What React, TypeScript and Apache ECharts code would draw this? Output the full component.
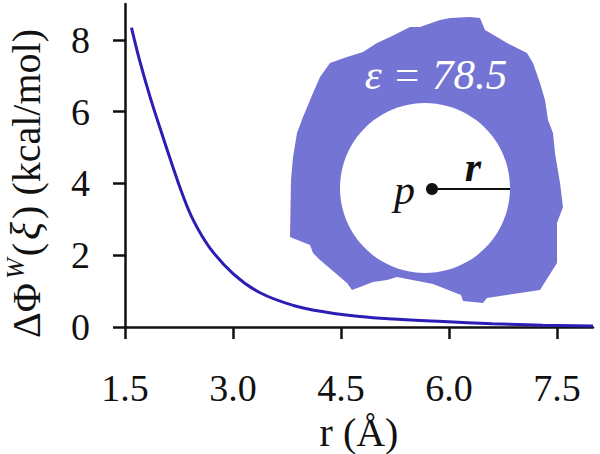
import React, { useEffect, useRef } from "react";
import * as echarts from "echarts";

const rValues = [1.59, 1.7, 1.85, 2.01, 2.15, 2.29, 2.45, 2.68, 3.0, 3.37, 3.84, 4.3, 4.76, 5.23, 5.92, 6.6, 7.3, 8.0];
const phiValues = [8.34, 7.45, 6.4, 5.4, 4.55, 3.74, 2.97, 2.2, 1.49, 0.96, 0.6, 0.41, 0.29, 0.22, 0.15, 0.09, 0.05, 0.03];
const xTicks = [1.5, 3.0, 4.5, 6.0, 7.5];
const yTicks = [0, 2, 4, 6, 8];

const blobPoints = [
  [293, 157], [297, 133], [303, 117], [313, 93], [320, 77], [330, 63], [347, 57], [363, 52],
  [377, 43], [390, 37], [410, 27], [420, 27], [440, 20], [450, 18], [470, 17], [480, 18],
  [485, 30], [497, 37], [507, 43], [527, 53], [533, 63], [540, 83], [545, 100], [548, 120],
  [553, 133], [555, 153], [560, 183], [563, 207], [557, 223], [557, 263], [540, 290],
  [487, 298], [483, 303], [463, 301], [461, 295], [433, 284], [397, 277], [387, 280],
  [373, 282], [360, 287], [352, 290], [347, 283], [320, 260], [313, 253], [310, 245],
  [290, 237], [291, 180],
];

const FONT = "Liberation Serif";

export default function App() {
  const ref = useRef<HTMLDivElement>(null);
  useEffect(() => {
    if (!ref.current) return;
    const chart = echarts.init(ref.current, null, { renderer: "svg" });
    chart.setOption({
      animation: false,
      grid: { left: 125, right: 7, top: 4, bottom: 127, containLabel: false, outerBoundsMode: "none" },
      xAxis: {
        type: "value",
        min: 1.5,
        max: 8.0,
        splitLine: { show: false },
        axisLine: { lineStyle: { color: "#111", width: 2.5 } },
        axisTick: { show: true, length: 12, lineStyle: { color: "#111", width: 2.5 }, customValues: xTicks },
        axisLabel: {
          customValues: xTicks,
          formatter: (v: number) => `{t|${v.toFixed(1)}}`,
          fontFamily: FONT,
          fontSize: 38,
          lineHeight: 38,
          color: "#111",
          margin: 42,
          rich: { t: { fontFamily: FONT, fontSize: 38, lineHeight: 38, color: "#111" } },
        },
        name: "{n|r (Å)}",
        nameLocation: "middle",
        nameGap: 85,
        nameTextStyle: {
          fontFamily: FONT,
          fontSize: 40,
          lineHeight: 40,
          color: "#111",
          rich: { n: { fontFamily: FONT, fontSize: 40, lineHeight: 40, color: "#111" } },
        },
      },
      yAxis: {
        type: "value",
        min: 0,
        max: 9,
        splitLine: { show: false },
        axisLine: { show: true, lineStyle: { color: "#111", width: 2.5 } },
        axisTick: { show: true, length: 12, lineStyle: { color: "#111", width: 2.5 }, customValues: yTicks },
        axisLabel: {
          customValues: yTicks,
          formatter: (v: number) => `{t|${v}}`,
          fontFamily: FONT,
          fontSize: 38,
          color: "#111",
          margin: 35,
          rich: { t: { fontFamily: FONT, fontSize: 38, lineHeight: 40, color: "#111" } },
        },
        name: "{d|ΔΦ}{w|W}{p|(}{xi|ξ}{p|)} {u|(kcal/mol)}",
        nameLocation: "middle",
        nameGap: 76,
        nameTextStyle: {
          fontFamily: FONT,
          fontSize: 40,
          lineHeight: 46,
          color: "#111",
          padding: [0, 36, 0, 0],
          rich: {
            d: { fontFamily: FONT, fontSize: 40, lineHeight: 46, color: "#111", padding: [0, 2, 0, 0] },
            w: { fontFamily: FONT, fontSize: 25, lineHeight: 32, fontStyle: "italic", color: "#111", verticalAlign: "top", padding: [0, 2, 0, 2] },
            p: { fontFamily: FONT, fontSize: 40, lineHeight: 46, color: "#111" },
            xi: { fontFamily: FONT, fontSize: 42, lineHeight: 46, fontStyle: "italic", color: "#111", padding: [0, 3, 0, 3] },
            u: { fontFamily: FONT, fontSize: 40, lineHeight: 46, color: "#111" },
          },
        },
      },
      series: [
        {
          type: "line",
          data: rValues.map((r, i) => [r, phiValues[i]]),
          smooth: 0.4,
          showSymbol: false,
          lineStyle: { color: "#2c1eb5", width: 3 },
          z: 1,
        },
      ],
      graphic: [
        {
          type: "polygon",
          shape: { points: blobPoints },
          style: { fill: "#7474d4" },
          z: 10,
        },
        { type: "circle", shape: { cx: 425, cy: 188, r: 85 }, style: { fill: "#ffffff" }, z: 11 },
        { type: "line", shape: { x1: 432, y1: 189, x2: 510, y2: 189 }, style: { stroke: "#111", lineWidth: 2 }, z: 12 },
        { type: "circle", shape: { cx: 432, cy: 189, r: 6 }, style: { fill: "#111" }, z: 12 },
        {
          type: "text",
          x: 415,
          y: 190,
          style: { text: "p", fontFamily: FONT, fontSize: 42, fontStyle: "italic", fill: "#111", align: "right", verticalAlign: "middle" },
          z: 12,
        },
        {
          type: "text",
          x: 473,
          y: 167,
          style: { text: "r", fontFamily: FONT, fontSize: 42, fontStyle: "italic", fontWeight: "bold", fill: "#111", align: "center", verticalAlign: "middle" },
          z: 12,
        },
        {
          type: "text",
          x: 436,
          y: 74,
          style: { text: "ε = 78.5", fontFamily: FONT, fontSize: 43, fontStyle: "italic", fill: "#ffffff", align: "center", verticalAlign: "middle" },
          z: 12,
        },
      ],
    });
    return () => chart.dispose();
  }, []);
  return <div ref={ref} style={{ width: 600, height: 454, position: "absolute", left: 0, top: 0 }} />;
}
